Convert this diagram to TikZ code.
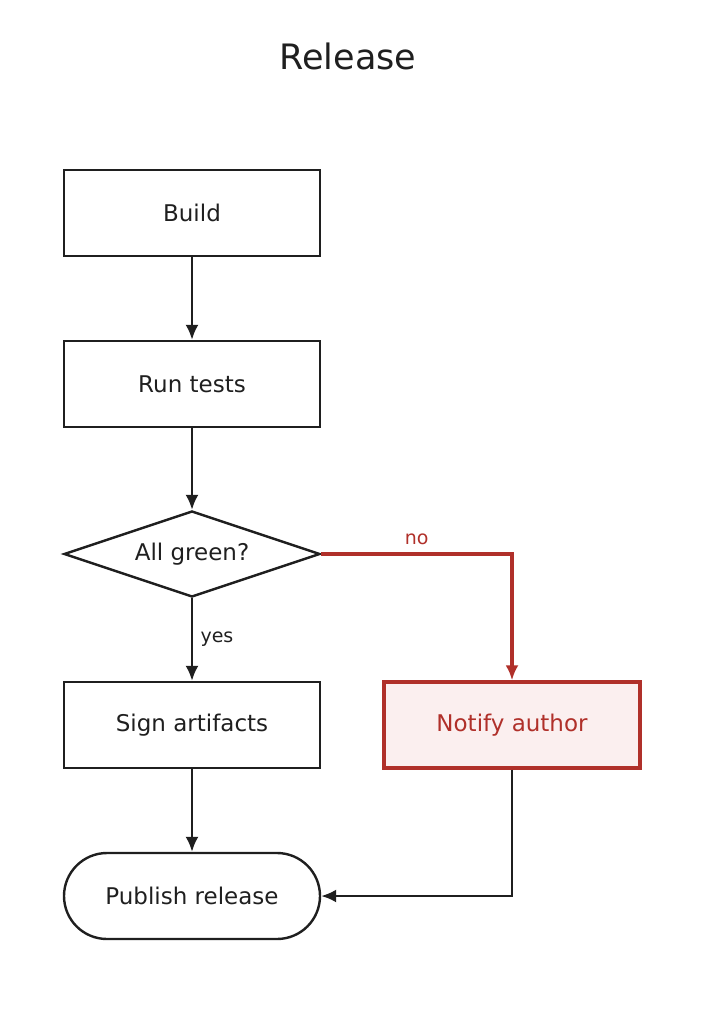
\documentclass[tikz,border=0pt]{standalone}
\usepackage{fontspec}
\setmainfont{DejaVu Sans}
\usetikzlibrary{shapes.geometric,arrows.meta}
\definecolor{ink}{HTML}{1F1F1F}
\definecolor{alert}{HTML}{B0302A}
\definecolor{alertfill}{HTML}{FBEFEF}
\begin{document}
\begin{tikzpicture}[x=1pt,y=-1pt,
  line width=2.4pt,
  step box/.style={rectangle,draw=ink,line width=2.4pt,minimum width=256pt,minimum height=86pt,font=\fontsize{23}{27}\selectfont,text=ink},
  alert box/.style={step box,draw=alert,fill=alertfill,text=alert,line width=3.4pt},
  check node/.style={diamond,draw=ink,line width=2.4pt,aspect=3,minimum width=256pt,minimum height=86pt,inner sep=0pt,font=\fontsize{23}{27}\selectfont,text=ink},
  end node/.style={rectangle,rounded corners=43pt,draw=ink,line width=2.4pt,minimum width=256pt,minimum height=86pt,font=\fontsize{23}{27}\selectfont,text=ink},
  flow/.style={draw=ink,line width=2.4pt,-{Latex[length=15pt,width=13pt]}},
  edge label/.style={font=\fontsize{19}{22}\selectfont}]
  \useasboundingbox (0,0) rectangle (704,1024);

  \node[font=\fontsize{35}{40}\selectfont,text=ink] (title) at (348,56) {Release};
  \node[step box] (build) at (192,213) {Build};
  \node[step box] (tests) at (192,384) {Run tests};
  \node[check node] (green) at (192,554) {All green?};
  \node[step box] (sign) at (192,725) {Sign artifacts};
  \node[alert box] (notify) at (512,725) {Notify author};
  \node[end node] (publish) at (192,896) {Publish release};

  \draw[flow] (build) -- (tests);
  \draw[flow] (tests) -- (green);
  \draw[flow] (green) -- node[edge label,right,text=ink,xshift=4pt,pos=0.5] {yes} (sign);
  \draw[flow] (sign) -- (publish);
  \draw[flow,draw=alert,line width=3.4pt] (green.east) -- node[edge label,above,text=alert,pos=0.5,yshift=4pt] {no} (512,554) -- (notify.north);
  \draw[flow] (notify.south) |- (publish.east);
\end{tikzpicture}
\end{document}
